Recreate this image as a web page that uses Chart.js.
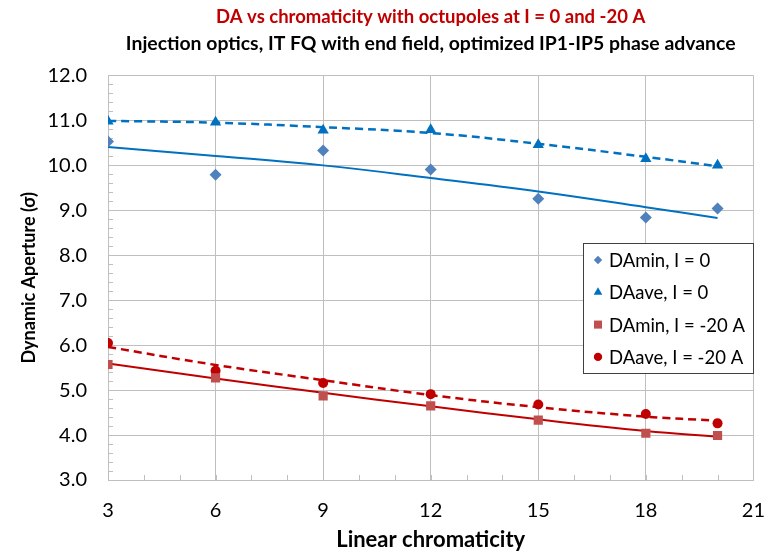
<!DOCTYPE html>
<html>
<head>
<meta charset="utf-8">
<script src="https://cdn.jsdelivr.net/npm/chart.js@4"></script>
<style>
  html, body { margin: 0; padding: 0; background: #fff; }
  #wrap { position: relative; width: 784px; height: 553px; }
</style>
</head>
<body>
<div id="wrap"><canvas id="da-chart" width="784" height="553"></canvas></div>
<script>
// Data
var chroma = [3, 6, 9, 12, 15, 18, 20];
var daMinI0 = [10.53, 9.79, 10.33, 9.91, 9.26, 8.84, 9.04];
var daAveI0 = [10.98, 10.96, 10.78, 10.79, 10.46, 10.15, 10.0];
var daMinI20 = [5.57, 5.27, 4.87, 4.65, 4.33, 4.04, 3.99];
var daAveI20 = [6.05, 5.43, 5.16, 4.91, 4.68, 4.47, 4.26];

// Trend lines at the same chromaticities
var trendMinI0 = [10.41, 10.21, 10.0, 9.72, 9.42, 9.07, 8.83];
var trendAveI0 = [10.99, 10.95, 10.85, 10.72, 10.48, 10.19, 9.98];
var trendMinI20 = [5.59, 5.26, 4.94, 4.64, 4.35, 4.09, 3.96];
var trendAveI20 = [5.96, 5.56, 5.22, 4.89, 4.62, 4.41, 4.32];

var xMin = 3, xMax = 21, xStep = 3;
var yMin = 3, yMax = 12, yStep = 1;

var BLUE = '#0070C0';
var STEEL = '#4F81BD';
var RED = '#C00000';
var BRICK = '#C0504D';
var GRID = '#BFBFBF';
var FONT = 'Lato, "Open Sans", sans-serif';

function pts(xs, ys) {
  return xs.map(function(x, i) { return {x: x, y: ys[i]}; });
}

// Excel style inside minor ticks
var minorTicks = {
  id: 'minorTicks',
  beforeDatasetsDraw: function(chart) {
    var ctx = chart.ctx, xs = chart.scales.x, ys = chart.scales.y;
    var a = chart.chartArea;
    ctx.save();
    ctx.strokeStyle = GRID;
    ctx.lineWidth = 1;
    ctx.beginPath();
    for (var v = yMin; v <= yMax + 1e-9; v += 0.2) {
      var py = Math.round(ys.getPixelForValue(v)) + 0.5;
      ctx.moveTo(a.left, py);
      ctx.lineTo(a.left + 5, py);
    }
    for (var u = xMin; u <= xMax; u += 1) {
      var px = Math.round(xs.getPixelForValue(u)) + 0.5;
      ctx.moveTo(px, a.bottom);
      ctx.lineTo(px, a.bottom - 5);
    }
    ctx.stroke();
    ctx.restore();
  }
};

// Boxed legend inside the plot area
var boxLegend = {
  id: 'boxLegend',
  afterDraw: function(chart, args, opts) {
    var ctx = chart.ctx;
    ctx.save();
    ctx.fillStyle = '#fff';
    ctx.fillRect(opts.left, opts.top, opts.width, opts.height);
    ctx.strokeStyle = '#404040';
    ctx.lineWidth = 1;
    ctx.strokeRect(opts.left + 0.5, opts.top + 0.5, opts.width, opts.height);
    var items = chart.data.datasets.filter(function(d) { return d.inLegend; });
    ctx.font = '18.5px ' + FONT;
    ctx.textBaseline = 'middle';
    items.forEach(function(d, i) {
      var y = opts.top + opts.first + i * opts.gap;
      ctx.fillStyle = d.backgroundColor;
      ctx.strokeStyle = d.backgroundColor;
      Chart.helpers.drawPoint(ctx, {
        pointStyle: d.pointStyle,
        radius: d.legendRadius,
        borderWidth: 0
      }, opts.left + 15, y);
      ctx.fillStyle = '#000';
      ctx.fillText(d.label, opts.left + 26, y + 1);
    });
    ctx.restore();
  }
};

var ctx = document.getElementById('da-chart');

new Chart(ctx, {
  type: 'scatter',
  data: {
    datasets: [{
      label: 'DAmin, I = 0',
      data: pts(chroma, daMinI0),
      pointStyle: 'rectRot',
      pointRadius: 6,
      backgroundColor: STEEL,
      borderColor: STEEL,
      borderWidth: 0,
      inLegend: true,
      legendRadius: 4.2,
      order: 1
    }, {
      label: 'DAave, I = 0',
      data: pts(chroma, daAveI0),
      pointStyle: 'triangle',
      pointRadius: 6.5,
      backgroundColor: BLUE,
      borderColor: BLUE,
      borderWidth: 0,
      inLegend: true,
      legendRadius: 5,
      order: 1
    }, {
      label: 'DAmin, I = -20 A',
      data: pts(chroma, daMinI20),
      pointStyle: 'rect',
      pointRadius: 6.5,
      backgroundColor: BRICK,
      borderColor: BRICK,
      borderWidth: 0,
      inLegend: true,
      legendRadius: 5.7,
      order: 1
    }, {
      label: 'DAave, I = -20 A',
      data: pts(chroma, daAveI20),
      pointStyle: 'circle',
      pointRadius: 5,
      backgroundColor: RED,
      borderColor: RED,
      borderWidth: 0,
      inLegend: true,
      legendRadius: 4.2,
      order: 1
    }, {
      label: 'trend DAmin I=0',
      type: 'line',
      data: pts(chroma, trendMinI0),
      borderColor: BLUE,
      borderWidth: 2,
      pointRadius: 0,
      tension: 0.4,
      fill: false,
      order: 2
    }, {
      label: 'trend DAave I=0',
      type: 'line',
      data: pts(chroma, trendAveI0),
      borderColor: BLUE,
      borderWidth: 2.5,
      borderDash: [8, 5],
      pointRadius: 0,
      tension: 0.4,
      fill: false,
      order: 2
    }, {
      label: 'trend DAmin I=-20',
      type: 'line',
      data: pts(chroma, trendMinI20),
      borderColor: RED,
      borderWidth: 2,
      pointRadius: 0,
      tension: 0.4,
      fill: false,
      order: 2
    }, {
      label: 'trend DAave I=-20',
      type: 'line',
      data: pts(chroma, trendAveI20),
      borderColor: RED,
      borderWidth: 2.5,
      borderDash: [8, 5],
      pointRadius: 0,
      tension: 0.4,
      fill: false,
      order: 2
    }]
  },
  options: {
    responsive: false,
    animation: false,
    devicePixelRatio: 1,
    layout: { padding: { left: 0, right: 16, top: 0, bottom: 0 } },
    plugins: {
      legend: { display: false },
      tooltip: { enabled: false },
      title: {
        display: true,
        fullSize: false,
        text: 'DA vs chromaticity with octupoles at I = 0 and -20 A',
        color: RED,
        font: { family: FONT, size: 18.5, weight: 'bold' },
        padding: { top: 6, bottom: 4 }
      },
      subtitle: {
        display: true,
        fullSize: false,
        text: 'Injection optics, IT FQ with end field, optimized IP1-IP5 phase advance',
        color: '#000',
        font: { family: FONT, size: 19.4, weight: 'bold' },
        padding: { top: 0, bottom: 20 }
      },
      boxLegend: { left: 583, top: 243, width: 170, height: 130, first: 17, gap: 32.3 }
    },
    scales: {
      x: {
        type: 'linear',
        min: xMin,
        max: xMax,
        afterFit: function(scale) { scale.height = 73; },
        ticks: {
          stepSize: xStep,
          color: '#000',
          padding: 19,
          font: { family: FONT, size: 20 }
        },
        grid: { color: GRID, drawTicks: false },
        border: { color: GRID },
        title: {
          display: true,
          text: 'Linear chromaticity',
          color: '#000',
          font: { family: FONT, size: 22, weight: 'bold' },
          padding: { top: 3, bottom: 0 }
        }
      },
      y: {
        min: yMin,
        max: yMax,
        afterFit: function(scale) { scale.width = 108; },
        ticks: {
          stepSize: yStep,
          color: '#000',
          padding: 21,
          font: { family: FONT, size: 20 },
          callback: function(v) { return v.toFixed(1); }
        },
        grid: { color: GRID, drawTicks: false },
        border: { color: GRID },
        title: {
          display: true,
          text: 'Dynamic Aperture (σ)',
          color: '#000',
          font: { family: FONT, size: 18, weight: 'bold' },
          padding: { top: 18, bottom: 0 }
        }
      }
    }
  },
  plugins: [minorTicks, boxLegend]
});
</script>
</body>
</html>
